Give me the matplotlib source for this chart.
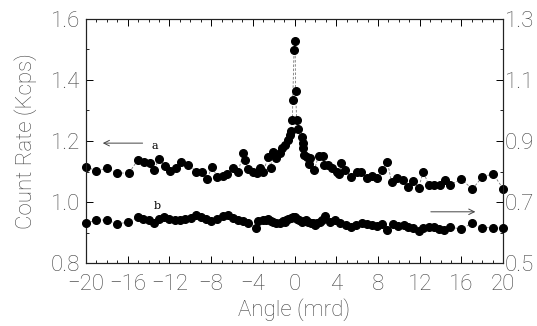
import matplotlib
matplotlib.use("Agg")
import matplotlib.pyplot as plt
from matplotlib.ticker import MultipleLocator

# Series a (left axis, Kcps)
a_x = [-20.0, -19.0, -18.0, -17.0, -15.9, -15.0, -14.4, -13.9, -13.5, -13.0,
       -12.4, -11.9, -11.4, -10.9, -10.2, -9.4, -8.9, -8.4, -7.9, -7.4,
       -6.9, -6.45, -5.9, -5.4, -4.9, -4.75, -4.45, -3.95, -3.6, -3.3,
       -3.0, -2.5, -2.25, -2.05, -1.8, -1.4, -1.25, -0.9, -0.65, -0.45,
       -0.35, -0.2, -0.17, -0.05, 0.05, 0.1, 0.2, 0.3, 0.7, 0.8,
       0.85, 0.9, 1.15, 1.4, 1.5, 1.9, 2.3, 2.75, 2.8, 3.25,
       3.55, 4.05, 4.3, 4.5, 4.85, 5.4, 5.95, 6.35, 6.9, 7.4,
       7.9, 8.35, 8.9, 9.3, 9.8, 10.35, 10.85, 11.4, 11.9, 12.35,
       12.85, 13.4, 13.95, 14.45, 14.9, 16.0, 17.05, 18.0, 19.05, 20.0]
a_y = [1.116, 1.102, 1.111, 1.096, 1.094, 1.139, 1.132, 1.129, 1.105, 1.140,
       1.119, 1.103, 1.113, 1.132, 1.122, 1.100, 1.100, 1.075, 1.116, 1.081,
       1.086, 1.092, 1.111, 1.100, 1.162, 1.138, 1.108, 1.100, 1.094, 1.112,
       1.100, 1.149, 1.111, 1.165, 1.143, 1.160, 1.176, 1.187, 1.203, 1.220,
       1.233, 1.269, 1.335, 1.498, 1.529, 1.364, 1.269, 1.240, 1.214, 1.193,
       1.176, 1.154, 1.149, 1.124, 1.143, 1.105, 1.152, 1.152, 1.121, 1.121,
       1.111, 1.100, 1.091, 1.127, 1.105, 1.083, 1.100, 1.100, 1.080, 1.086,
       1.080, 1.105, 1.132, 1.065, 1.080, 1.072, 1.050, 1.069, 1.047, 1.100,
       1.056, 1.056, 1.056, 1.072, 1.056, 1.075, 1.042, 1.083, 1.092, 1.043]

# Series b (right axis)
b_x = [-20.0, -19.0, -18.0, -17.0, -16.0, -15.0, -14.5, -13.95, -13.5, -12.95,
       -12.5, -12.0, -11.5, -11.0, -10.5, -9.95, -9.45, -8.95, -8.5, -8.0,
       -7.45, -6.9, -6.4, -5.9, -5.4, -4.9, -4.45, -3.7, -3.5, -3.0,
       -2.75, -2.5, -2.3, -2.05, -1.75, -1.4, -1.15, -0.95, -0.8, -0.6,
       -0.35, -0.12, 0.0, 0.2, 0.45, 0.7, 0.9, 1.1, 1.3, 1.55,
       1.75, 1.95, 2.2, 2.45, 2.65, 2.9, 3.4, 3.9, 4.4, 4.9,
       5.4, 5.9, 6.45, 6.9, 7.4, 7.9, 8.35, 8.9, 9.4, 9.95,
       10.45, 10.9, 11.4, 11.9, 12.35, 12.85, 13.4, 13.85, 14.35, 14.9,
       15.95, 17.0, 18.0, 19.05, 20.0]
b_y = [0.630, 0.641, 0.641, 0.628, 0.634, 0.650, 0.643, 0.641, 0.632, 0.643,
       0.650, 0.644, 0.641, 0.641, 0.644, 0.647, 0.657, 0.650, 0.643, 0.638,
       0.643, 0.654, 0.657, 0.647, 0.641, 0.638, 0.632, 0.616, 0.638, 0.641,
       0.640, 0.645, 0.638, 0.635, 0.632, 0.630, 0.637, 0.635, 0.640, 0.643,
       0.648, 0.652, 0.650, 0.643, 0.640, 0.635, 0.638, 0.641, 0.636, 0.632,
       0.630, 0.625, 0.632, 0.635, 0.640, 0.654, 0.635, 0.641, 0.630, 0.625,
       0.617, 0.625, 0.630, 0.628, 0.625, 0.621, 0.628, 0.608, 0.627, 0.621,
       0.625, 0.619, 0.616, 0.606, 0.614, 0.617, 0.617, 0.611, 0.608, 0.619,
       0.611, 0.630, 0.616, 0.616, 0.614]

x_ticks = [-20, -16, -12, -8, -4, 0, 4, 8, 12, 16, 20]
left_ticks = [0.8, 1.0, 1.2, 1.4, 1.6]
right_ticks = [0.5, 0.7, 0.9, 1.1, 1.3]

plt.rcParams['font.family'] = ['Roboto', 'DejaVu Sans']

fig = plt.figure(figsize=(5.37, 3.26), dpi=100)
ax = fig.add_axes([0.160, 0.193, 0.777, 0.749])
ax2 = ax.twinx()

FS = 16
tick_font = dict(fontsize=FS, fontweight='light', color='#444444')

ax.plot(a_x, a_y, color='#777777', lw=0.6, ls=(0, (3, 2)), zorder=2)
ax.plot(a_x, a_y, 'o', color='black', ms=5.5, zorder=3, clip_on=False)
ax2.plot(b_x, b_y, color='#777777', lw=0.6, ls=(0, (3, 2)), zorder=2)
ax2.plot(b_x, b_y, 'o', color='black', ms=5.5, zorder=3, clip_on=False)

ax.set_xlim(-20, 20)
ax.set_ylim(0.8, 1.6)
ax2.set_ylim(0.5, 1.3)

ax.set_xticks(x_ticks)
ax.set_xticklabels([("\u2212%d" % -t) if t < 0 else "%d" % t for t in x_ticks], **tick_font)
ax.set_yticks(left_ticks)
ax.set_yticklabels(["%.1f" % t for t in left_ticks], **tick_font)
ax2.set_yticks(right_ticks)
ax2.set_yticklabels(["%.1f" % t for t in right_ticks], **tick_font)

ax.xaxis.set_minor_locator(MultipleLocator(1))
ax.yaxis.set_minor_locator(MultipleLocator(0.1))
ax2.yaxis.set_minor_locator(MultipleLocator(0.1))

ax.tick_params(axis='x', which='both', direction='in', top=True, pad=8)
ax.tick_params(axis='x', which='major', length=5, width=0.7)
ax.tick_params(axis='x', which='minor', length=2.5, width=0.6)
ax.tick_params(axis='y', which='major', direction='in', length=5, width=0.7, pad=4)
ax.tick_params(axis='y', which='minor', direction='in', length=2.5, width=0.6)
ax2.tick_params(axis='y', which='major', direction='in', length=5, width=0.7, pad=1)
ax2.tick_params(axis='y', which='minor', direction='in', length=2.5, width=0.6)

for a in (ax, ax2):
    for s in a.spines.values():
        s.set_linewidth(0.8)
        s.set_color('#222222')

ax.set_xlabel("Angle (mrd)", fontsize=FS, fontweight='light', color='#444444', labelpad=2)
ax.set_ylabel("Count Rate (Kcps)", fontsize=FS, fontweight='light', color='#444444', labelpad=10)

# annotations
ax.annotate("", xy=(-18.65, 1.193), xytext=(-14.3, 1.193),
            arrowprops=dict(arrowstyle='->', lw=0.7, color='#444444'))
ax.text(-13.4, 1.185, "a", fontsize=8, family='DejaVu Serif', ha='center', va='center')
ax.text(-13.2, 0.987, "b", fontsize=8, family='DejaVu Serif', ha='center', va='center')
ax.annotate("", xy=(17.6, 0.968), xytext=(12.8, 0.968),
            arrowprops=dict(arrowstyle='->', lw=0.7, color='#444444'))

fig.savefig("out.png", dpi=100)
